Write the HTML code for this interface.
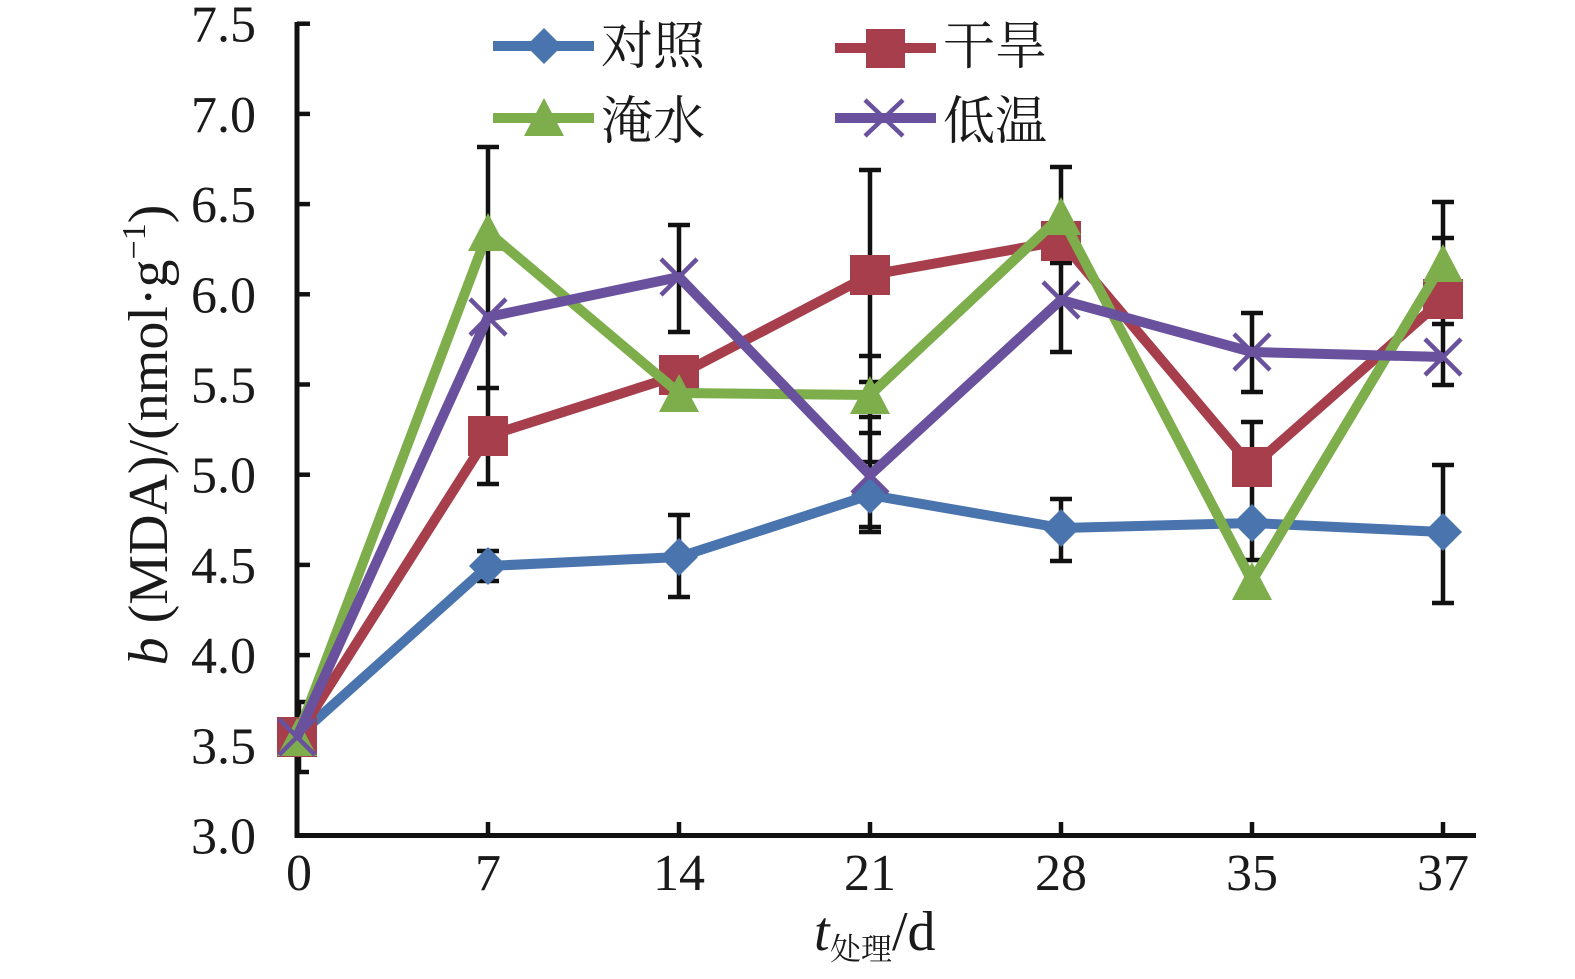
<!DOCTYPE html>
<html>
<head>
<meta charset="utf-8">
<style>
html,body{margin:0;padding:0;background:#fff;}
svg{display:block;}
text{font-family:"Liberation Serif","Noto Serif CJK SC",serif;fill:#1a1a1a;}
.cjk{font-family:"Liberation Serif","Noto Serif CJK SC","Noto Sans CJK SC",serif;}
</style>
</head>
<body>
<svg width="1575" height="979" viewBox="0 0 1575 979" xmlns="http://www.w3.org/2000/svg">
<rect width="1575" height="979" fill="#fff"/>

<!-- Axes -->
<g stroke="#111" stroke-width="5" fill="none">
  <line x1="297" y1="22" x2="297" y2="838"/>
  <line x1="295" y1="835.5" x2="1476" y2="835.5"/>
</g>
<!-- Y ticks -->
<g stroke="#111" stroke-width="4.5">
  <line x1="297" y1="23.7" x2="310" y2="23.7"/>
  <line x1="297" y1="113.9" x2="310" y2="113.9"/>
  <line x1="297" y1="204.1" x2="310" y2="204.1"/>
  <line x1="297" y1="294.3" x2="310" y2="294.3"/>
  <line x1="297" y1="384.5" x2="310" y2="384.5"/>
  <line x1="297" y1="474.7" x2="310" y2="474.7"/>
  <line x1="297" y1="564.9" x2="310" y2="564.9"/>
  <line x1="297" y1="655.1" x2="310" y2="655.1"/>
  <line x1="297" y1="745.3" x2="310" y2="745.3"/>
</g>
<!-- X ticks -->
<g stroke="#111" stroke-width="4.5">
  <line x1="488" y1="822" x2="488" y2="835"/>
  <line x1="679" y1="822" x2="679" y2="835"/>
  <line x1="870" y1="822" x2="870" y2="835"/>
  <line x1="1061" y1="822" x2="1061" y2="835"/>
  <line x1="1252" y1="822" x2="1252" y2="835"/>
  <line x1="1443" y1="822" x2="1443" y2="835"/>
</g>

<!-- Y tick labels -->
<g font-size="52" text-anchor="end">
  <text x="256" y="41.7">7.5</text>
  <text x="256" y="131.9">7.0</text>
  <text x="256" y="222.1">6.5</text>
  <text x="256" y="312.3">6.0</text>
  <text x="256" y="402.5">5.5</text>
  <text x="256" y="492.7">5.0</text>
  <text x="256" y="582.9">4.5</text>
  <text x="256" y="673.1">4.0</text>
  <text x="256" y="763.3">3.5</text>
  <text x="256" y="853.5">3.0</text>
</g>
<!-- X tick labels -->
<g font-size="52" text-anchor="middle">
  <text x="299" y="890">0</text>
  <text x="488" y="890">7</text>
  <text x="679" y="890">14</text>
  <text x="870" y="890">21</text>
  <text x="1061" y="890">28</text>
  <text x="1252" y="890">35</text>
  <text x="1443" y="890">37</text>
</g>

<!-- Axis titles -->
<text x="814" y="950" font-size="56" font-style="italic">t</text>
<text x="830" y="960" font-size="31" class="cjk">处理</text>
<text x="892" y="950" font-size="56">/d</text>

<text transform="translate(167,435) rotate(-90)" font-size="56" text-anchor="middle"><tspan font-style="italic">b</tspan> (MDA)/(nmol·g<tspan font-size="34" dy="-22">−1</tspan><tspan dy="22">)</tspan></text>

<!-- Error bars -->
<g stroke="#111" stroke-width="4.5" fill="none">
  <!-- x=0 -->
  <path d="M299 702 V772 M297 702 H309 M297 772 H309"/>
  <!-- x=7 -->
  <path d="M488 147 V484 M477 147 H499 M477 388 H499 M477 484 H499"/>
  <path d="M488 551 V581 M477 551 H499 M477 581 H499"/>
  <!-- x=14 -->
  <path d="M679 225 V332 M668 225 H690 M668 332 H690"/>
  <path d="M679 515 V597 M668 515 H690 M668 597 H690"/>
  <!-- x=21 -->
  <path d="M870 170 V532 M859 170 H881 M859 356 H881 M859 382 H881 M859 417 H881 M859 433 H881 M859 462 H881 M859 527 H881 M859 532 H881"/>
  <!-- x=28 -->
  <path d="M1061 167 V352 M1050 167 H1072 M1050 263 H1072 M1050 352 H1072"/>
  <path d="M1061 499 V561 M1050 499 H1072 M1050 561 H1072"/>
  <!-- x=35 -->
  <path d="M1252 313 V392 M1241 313 H1263 M1241 392 H1263"/>
  <path d="M1252 422 V560 M1241 422 H1263 M1241 560 H1263"/>
  <!-- x=37 -->
  <path d="M1443 202 V385 M1432 202 H1454 M1432 238 H1454 M1432 324 H1454 M1432 385 H1454"/>
  <path d="M1443 465 V603 M1432 465 H1454 M1432 603 H1454"/>
</g>

<!-- Blue series -->
<g>
  <polyline points="297,737 488,566 679,557 870,495 1061,528 1252,523 1443,532" fill="none" stroke="#4A74AE" stroke-width="10" stroke-linejoin="round"/>
  <g fill="#4A74AE">
    <polygon points="297,718 316,737 297,756 278,737"/>
    <polygon points="488,547 507,566 488,585 469,566"/>
    <polygon points="679,538 698,557 679,576 660,557"/>
    <polygon points="870,476 889,495 870,514 851,495"/>
    <polygon points="1061,509 1080,528 1061,547 1042,528"/>
    <polygon points="1252,504 1271,523 1252,542 1233,523"/>
    <polygon points="1443,513 1462,532 1443,551 1424,532"/>
  </g>
</g>

<!-- Red series -->
<g>
  <polyline points="297,737 488,436 679,375 870,275 1061,241 1252,467 1443,299" fill="none" stroke="#A63F4B" stroke-width="10" stroke-linejoin="round"/>
  <g fill="#A63F4B">
    <rect x="277" y="717" width="40" height="40"/>
    <rect x="468" y="416" width="40" height="40"/>
    <rect x="659" y="355" width="40" height="40"/>
    <rect x="850" y="255" width="40" height="40"/>
    <rect x="1041" y="221" width="40" height="40"/>
    <rect x="1232" y="447" width="40" height="40"/>
    <rect x="1423" y="279" width="40" height="40"/>
  </g>
</g>

<!-- Green series -->
<g>
  <polyline points="297,737 488,232 679,393 870,395 1061,216 1252,581 1443,263" fill="none" stroke="#7DAE4B" stroke-width="10" stroke-linejoin="round"/>
  <g fill="#7DAE4B">
    <polygon points="297,718 317,756 277,756"/>
    <polygon points="488,213 508,251 468,251"/>
    <polygon points="679,374 699,412 659,412"/>
    <polygon points="870,376 890,414 850,414"/>
    <polygon points="1061,197 1081,235 1041,235"/>
    <polygon points="1252,562 1272,600 1232,600"/>
    <polygon points="1443,244 1463,282 1423,282"/>
  </g>
</g>

<!-- Purple series -->
<g>
  <polyline points="297,737 488,317 679,277 870,475 1061,300 1252,352 1443,357" fill="none" stroke="#6A519E" stroke-width="10" stroke-linejoin="round"/>
  <g stroke="#6A519E" stroke-width="4.5" fill="none">
    <path d="M279 719 L315 755 M279 755 L315 719"/>
    <path d="M470 299 L506 335 M470 335 L506 299"/>
    <path d="M661 259 L697 295 M661 295 L697 259"/>
    <path d="M852 457 L888 493 M852 493 L888 457"/>
    <path d="M1043 282 L1079 318 M1043 318 L1079 282"/>
    <path d="M1234 334 L1270 370 M1234 370 L1270 334"/>
    <path d="M1425 339 L1461 375 M1425 375 L1461 339"/>
  </g>
</g>

<!-- Legend -->
<g>
  <line x1="493" y1="46" x2="594" y2="46" stroke="#4A74AE" stroke-width="10"/>
  <polygon points="544,28 562,46 544,64 526,46" fill="#4A74AE"/>
  <text x="601" y="64" font-size="52" class="cjk">对照</text>

  <line x1="835" y1="48" x2="936" y2="48" stroke="#A63F4B" stroke-width="10"/>
  <rect x="866" y="29" width="39" height="39" fill="#A63F4B"/>
  <text x="943" y="64" font-size="52" class="cjk">干旱</text>

  <line x1="493" y1="118" x2="594" y2="118" stroke="#7DAE4B" stroke-width="10"/>
  <polygon points="544,98 564,136 524,136" fill="#7DAE4B"/>
  <text x="601" y="139" font-size="52" class="cjk">淹水</text>

  <line x1="835" y1="118" x2="936" y2="118" stroke="#6A519E" stroke-width="10"/>
  <path d="M865 100 L903 136 M865 136 L903 100" stroke="#6A519E" stroke-width="4.5"/>
  <text x="943" y="139" font-size="52" class="cjk">低温</text>
</g>
</svg>
</body>
</html>
